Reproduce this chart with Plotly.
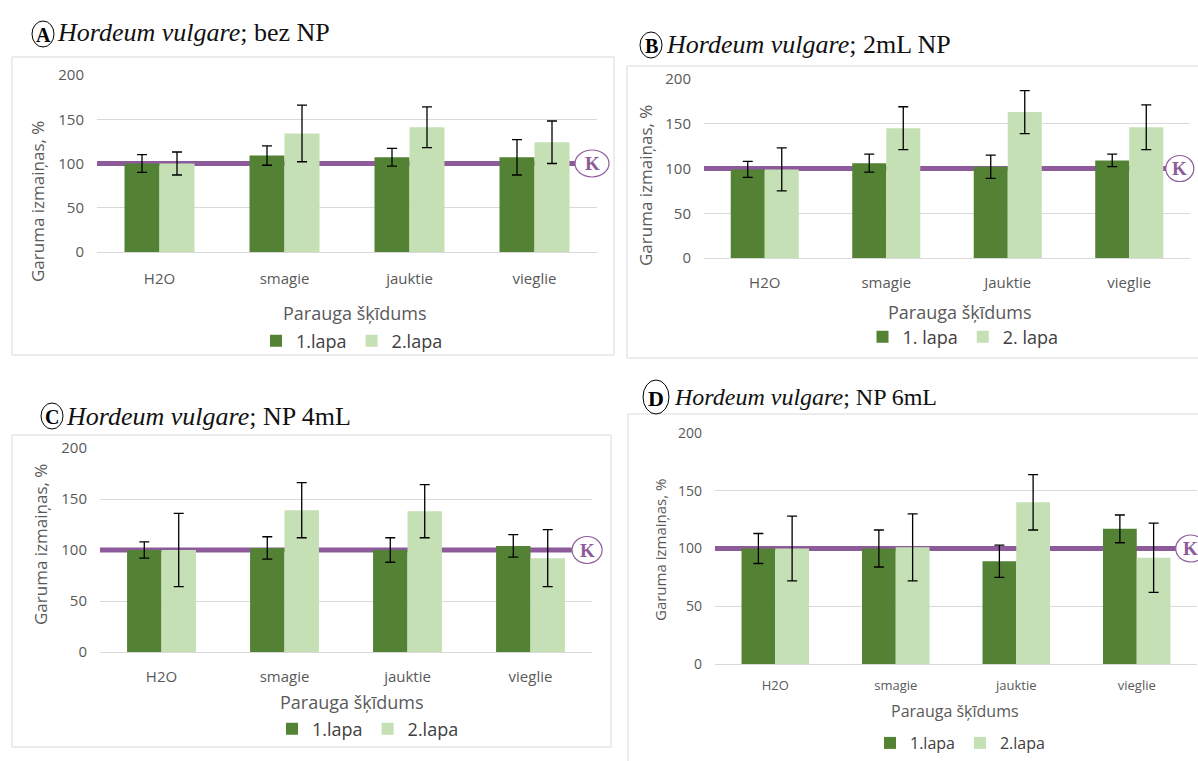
import plotly.graph_objects as go

W, H = 1198, 761

# ---------------- data ----------------
series_names = ["1.lapa", "2.lapa"]
series_names_b = ["1. lapa", "2. lapa"]
cats_a = ["H2O", "smagie", "jauktie", "vieglie"]
cats_b = ["H2O", "smagie", "Jauktie", "vieglie"]
cats_c = ["H2O", "smagie", "jauktie", "vieglie"]
cats_d = ["H2O", "smagie", "jauktie", "vieglie"]

a_lapa1 = [100, 109, 107, 107]
a_lapa1_err = [10, 11, 10, 20]
a_lapa2 = [100, 134, 141, 124]
a_lapa2_err = [13, 32, 23, 24]

b_lapa1 = [99, 106, 102, 109]
b_lapa1_err = [9, 10, 13, 7]
b_lapa2 = [99, 145, 163, 146]
b_lapa2_err = [24, 24, 24, 25]

c_lapa1 = [100, 102, 100, 104]
c_lapa1_err = [8, 11, 12, 11]
c_lapa2 = [100, 139, 138, 92]
c_lapa2_err = [36, 27, 26, 28]

d_lapa1 = [100, 100, 89, 117]
d_lapa1_err = [13, 16, 14, 12]
d_lapa2 = [100, 101, 140, 92]
d_lapa2_err = [28, 29, 24, 30]

control_value = 100
y_ticks = [0, 50, 100, 150, 200]

titles = ["<i>Hordeum vulgare</i>; bez NP", "<i>Hordeum vulgare</i>; 2mL NP",
          "<i>Hordeum vulgare</i>; NP 4mL", "<i>Hordeum vulgare</i>; NP 6mL"]
letters = ["A", "B", "C", "D"]
y_title = "Garuma izmaiņas, %"
x_title = "Parauga šķīdums"

# ---------------- style ----------------
DARK = "#548235"
LIGHT = "#C5E0B4"
PURPLE = "#8E5B9A"
GRID = "#D9D9D9"
TXT = "#595959"
SANS = "Open Sans, Noto Sans, sans-serif"
SERIF = "Liberation Serif, Times New Roman, serif"


def px(x):
    return x / W


def py(y):
    return 1 - y / H


# panel layout in pixels
panels = [
    dict(cats=cats_a, v1=a_lapa1, e1=a_lapa1_err, v2=a_lapa2, e2=a_lapa2_err, names=series_names,
         xd=(97, 597), yd=(75, 252), box=(12, 57, 614, 355),
         title_xy=(55, 33), circ=(43, 34, 11, 13), lsize=20, ytitle=(38, 202), xtitle=(355, 313),
         leg=(352, 341), line_end=0.956, k_x=0.99, k_size=(34, 27), tick=15, cat=15, ttl=18, legf=18,
         ytf=17, cstand=16),
    dict(cats=cats_b, v1=b_lapa1, e1=b_lapa1_err, v2=b_lapa2, e2=b_lapa2_err, names=series_names_b,
         xd=(704, 1190), yd=(79, 258), box=(627, 66, 1205, 358),
         title_xy=(664, 45), circ=(651, 45, 11, 13), lsize=20, ytitle=(645, 186), xtitle=(960, 312),
         leg=(963, 337), line_end=0.961, k_x=0.979, k_size=(28, 26), tick=15, cat=15, ttl=18, legf=18,
         ytf=17, cstand=14),
    dict(cats=cats_c, v1=c_lapa1, e1=c_lapa1_err, v2=c_lapa2, e2=c_lapa2_err, names=series_names,
         xd=(100, 592), yd=(448, 652), box=(12, 435, 611, 747),
         title_xy=(64, 416), circ=(52, 416, 11, 13), lsize=20, ytitle=(40, 545), xtitle=(352, 702),
         leg=(368, 729), line_end=0.959, k_x=0.99, k_size=(30, 27), tick=15, cat=15, ttl=18, legf=18,
         ytf=17, cstand=14),
    dict(cats=cats_d, v1=d_lapa1, e1=d_lapa1_err, v2=d_lapa2, e2=d_lapa2_err, names=series_names,
         xd=(715, 1197), yd=(433, 664), box=(628, 414, 1205, 770),
         title_xy=(672, 397), circ=(656, 397, 13, 17), lsize=22, ytitle=(660, 550), xtitle=(955, 711),
         leg=(960, 743), line_end=0.965, k_x=0.987, k_size=(30, 27), tick=14, cat=13, ttl=16, legf=16,
         ytf=15, cstand=12),
]

fig = go.Figure()
shapes = []
annotations = []
layout = dict(width=W, height=H, margin=dict(l=0, r=0, t=0, b=0, pad=0, autoexpand=False), autosize=False,
              paper_bgcolor="white", plot_bgcolor="white", barmode="group",
              bargap=0.44, bargroupgap=0.0, showlegend=True)

for i, p in enumerate(panels):
    n = i + 1
    xa = "x" if n == 1 else f"x{n}"
    ya = "y" if n == 1 else f"y{n}"
    xkey = "xaxis" if n == 1 else f"xaxis{n}"
    ykey = "yaxis" if n == 1 else f"yaxis{n}"
    lkey = "legend" if n == 1 else f"legend{n}"
    ncat = len(p["cats"])

    for vals, errs, name, col in [(p["v1"], p["e1"], p["names"][0], DARK),
                                  (p["v2"], p["e2"], p["names"][1], LIGHT)]:
        fig.add_trace(go.Bar(x=p["cats"], y=vals, name=name, marker=dict(color=col, line=dict(width=0)),
                             error_y=dict(type="data", array=errs, visible=True, color="#000000",
                                          thickness=1.3, width=5),
                             xaxis=xa, yaxis=ya, legend=lkey, offsetgroup=name[0],
                             hoverinfo="x+y"))

    layout[xkey] = dict(domain=[px(p["xd"][0]), px(p["xd"][1])], anchor=ya, showgrid=False,
                        range=[-0.5, ncat - 0.5],
                        showline=False, zeroline=False, ticks="", fixedrange=True, automargin=False,
                        tickfont=dict(family=SANS, size=p["cat"], color=TXT),
                        ticklabelstandoff=p["cstand"], categoryorder="array", categoryarray=p["cats"])
    layout[ykey] = dict(domain=[py(p["yd"][1]), py(p["yd"][0])], anchor=xa, range=[0, 200],
                        tickvals=y_ticks, showgrid=True, gridcolor=GRID, gridwidth=1, automargin=False,
                        zeroline=True, zerolinecolor=GRID, zerolinewidth=1, showline=False,
                        ticks="", tickfont=dict(family=SANS, size=p["tick"], color=TXT),
                        ticklabelstandoff=12, fixedrange=True)
    layout[lkey] = dict(orientation="h", x=px(p["leg"][0]), y=py(p["leg"][1]), xanchor="center",
                        yanchor="middle", font=dict(family=SANS, size=p["legf"], color="#404040"),
                        bgcolor="rgba(0,0,0,0)", itemwidth=30, traceorder="normal",
                        itemclick=False, itemdoubleclick=False)

    # outer chart box
    bx0, by0, bx1, by1 = p["box"]
    shapes.append(dict(type="rect", xref="paper", yref="paper", x0=px(bx0), x1=px(bx1),
                       y0=py(by1), y1=py(by0), line=dict(color=GRID, width=1), layer="below"))

    # control line at 100 % (category units: axis spans -0.5 .. ncat-0.5)
    shapes.append(dict(type="line", xref=xa, yref=ya, x0=-0.5, x1=-0.5 + ncat * p["line_end"],
                       y0=control_value, y1=control_value, line=dict(color=PURPLE, width=5),
                       layer="between"))
    # K circle
    kw, kh = p["k_size"]
    shapes.append(dict(type="circle", xref=f"{xa} domain", yref=f"{ya} domain",
                       xsizemode="pixel", ysizemode="pixel", xanchor=p["k_x"], yanchor=0.5,
                       x0=-kw / 2, x1=kw / 2, y0=-kh / 2, y1=kh / 2,
                       line=dict(color=PURPLE, width=1.2), fillcolor="white", layer="above"))
    annotations.append(dict(text="<b>K</b>", xref=f"{xa} domain", yref=f"{ya} domain",
                            x=p["k_x"], y=0.5, showarrow=False, xanchor="center", yanchor="middle",
                            font=dict(family=SERIF, size=19, color=PURPLE)))

    # panel title with circled letter
    cx, cy, rx, ry = p["circ"]
    shapes.append(dict(type="circle", xref="paper", yref="paper", x0=px(cx - rx), x1=px(cx + rx),
                       y0=py(cy + ry), y1=py(cy - ry), line=dict(color="#000000", width=1)))
    annotations.append(dict(text=f"<b>{letters[i]}</b>", xref="paper", yref="paper", x=px(cx), y=py(cy + 1),
                            showarrow=False, xanchor="center", yanchor="middle",
                            font=dict(family=SERIF, size=p["lsize"], color="#000000")))
    tx, ty = p["title_xy"]
    annotations.append(dict(text=titles[i], xref="paper", yref="paper", x=px(tx), y=py(ty),
                            showarrow=False, xanchor="left", yanchor="middle",
                            font=dict(family=SERIF, size=p["ttl"] + 8, color="#111111")))
    # axis titles
    yx, yy = p["ytitle"]
    annotations.append(dict(text=y_title, xref="paper", yref="paper", x=px(yx), y=py(yy),
                            showarrow=False, textangle=-90, xanchor="center", yanchor="middle",
                            font=dict(family=SANS, size=p["ytf"], color=TXT)))
    xx, xy = p["xtitle"]
    annotations.append(dict(text=x_title, xref="paper", yref="paper", x=px(xx), y=py(xy),
                            showarrow=False, xanchor="center", yanchor="middle",
                            font=dict(family=SANS, size=p["legf"], color=TXT)))

layout["shapes"] = shapes
layout["annotations"] = annotations
fig.update_layout(**layout)
fig.write_html("out.html", post_script="document.body.style.margin='0';",
               config={"displayModeBar": False})
